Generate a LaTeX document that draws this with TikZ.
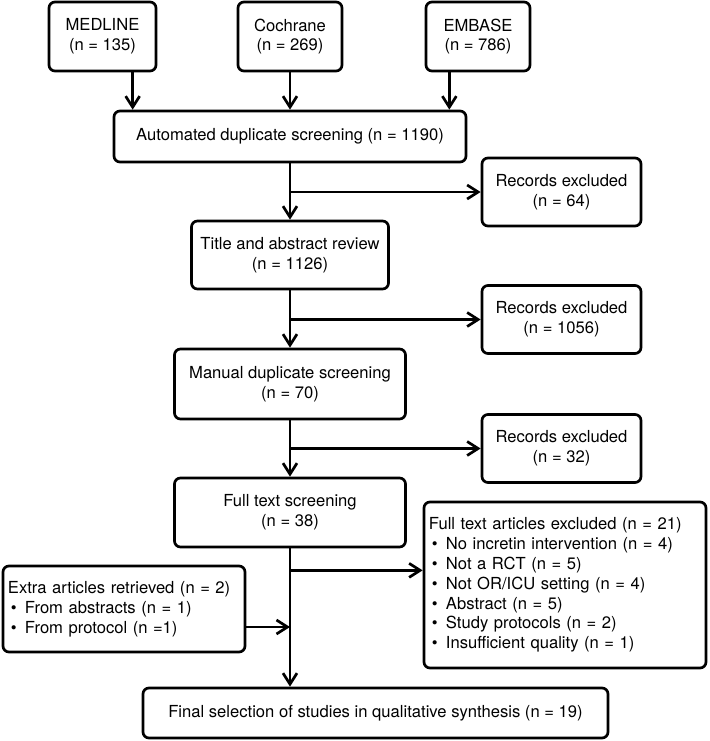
\documentclass[tikz,border=0pt]{standalone}
\usepackage{fontspec}
\setmainfont{TeX Gyre Heros}
\usetikzlibrary{arrows.meta}
\newcommand{\bul}{\hspace*{1.5pt}\makebox[7pt][l]{\textbullet}}

\begin{document}
\begin{tikzpicture}[x=0.5pt,y=0.5pt,
    box/.style={draw, line width=1.35pt, rounded corners=3pt, align=center, inner sep=0pt,
      font=\fontsize{8.3}{9.9}\selectfont},
    listbox/.style={box, align=left, inner sep=2.5pt},
    flow/.style={line width=1.35pt, -{Straight Barb[length=5.5pt,width=7pt]}}]
  \useasboundingbox (0,0) rectangle (709,-741);
  % sources
  \node[box, minimum width=53.5pt, minimum height=34.5pt] (medline) at (102.5,-36.5) {MEDLINE\\(n = 135)};
  \node[box, minimum width=52pt, minimum height=34.5pt] (cochrane) at (290,-36.5) {Cochrane\\(n = 269)};
  \node[box, minimum width=52pt, minimum height=34.5pt] (embase) at (478,-36.5) {EMBASE\\(n = 786)};
  % main column
  \node[box, minimum width=176pt, minimum height=25.5pt] (auto) at (290,-136.5) {Automated duplicate screening (n = 1190)};
  \node[box, minimum width=98.5pt, minimum height=34pt] (title) at (290,-255) {Title and abstract review\\(n = 1126)};
  \node[box, minimum width=115.5pt, minimum height=35pt] (manual) at (290,-384) {Manual duplicate screening\\(n = 70)};
  \node[box, minimum width=115.5pt, minimum height=34.5pt] (fulltext) at (290,-512.5) {Full text screening\\(n = 38)};
  \node[box, minimum width=232.5pt, minimum height=25pt] (final) at (375.5,-713) {Final selection of studies in qualitative synthesis (n = 19)};
  % exclusions
  \node[box, minimum width=79.5pt, minimum height=34pt] (excl1) at (561.5,-192) {Records excluded\\(n = 64)};
  \node[box, minimum width=79.5pt, minimum height=34pt] (excl2) at (561.5,-319.5) {Records excluded\\(n = 1056)};
  \node[box, minimum width=79.5pt, minimum height=34pt] (excl3) at (561.5,-448.5) {Records excluded\\(n = 32)};
  \node[listbox, text width=136pt, minimum height=83pt] (excl4) at (565,-585) {Full text articles excluded (n = 21)\\
    \bul No incretin intervention (n = 4)\\
    \bul Not a RCT (n = 5)\\
    \bul Not OR/ICU setting (n = 4)\\
    \bul Abstract (n = 5)\\
    \bul Study protocols (n = 2)\\
    \bul Insufficient quality (n = 1)};
  \node[listbox, text width=116pt, minimum height=43pt] (extra) at (124,-609) {Extra articles retrieved (n = 2)\\
    \bul From abstracts (n = 1)\\
    \bul From protocol (n =1)};

  \coordinate (a1) at ([xshift=10pt]auto.north west);
  \coordinate (a3) at ([xshift=-9pt]auto.north east);
  \draw[flow] (a1 |- medline.south) -- (a1);
  \draw[flow] (cochrane) -- (auto);
  \draw[flow] (a3 |- embase.south) -- (a3);

  \draw[flow] (auto) -- (title);
  \draw[flow] (auto.south |- excl1.west) -- (excl1.west);
  \draw[flow] (title) -- (manual);
  \draw[flow] (title.south |- excl2.west) -- (excl2.west);
  \draw[flow] (manual) -- (fulltext);
  \draw[flow] (manual.south |- excl3.west) -- (excl3.west);
  \draw[flow] (fulltext.south) -- (fulltext.south |- final.north);
  \coordinate (b4) at ([yshift=-11pt]fulltext.south);
  \draw[flow] (b4) -- (b4 -| excl4.west);
  \coordinate (b5) at ([yshift=-9pt]extra.east);
  \draw[flow] (b5) -- (b5 -| fulltext.south);
\end{tikzpicture}
\end{document}
